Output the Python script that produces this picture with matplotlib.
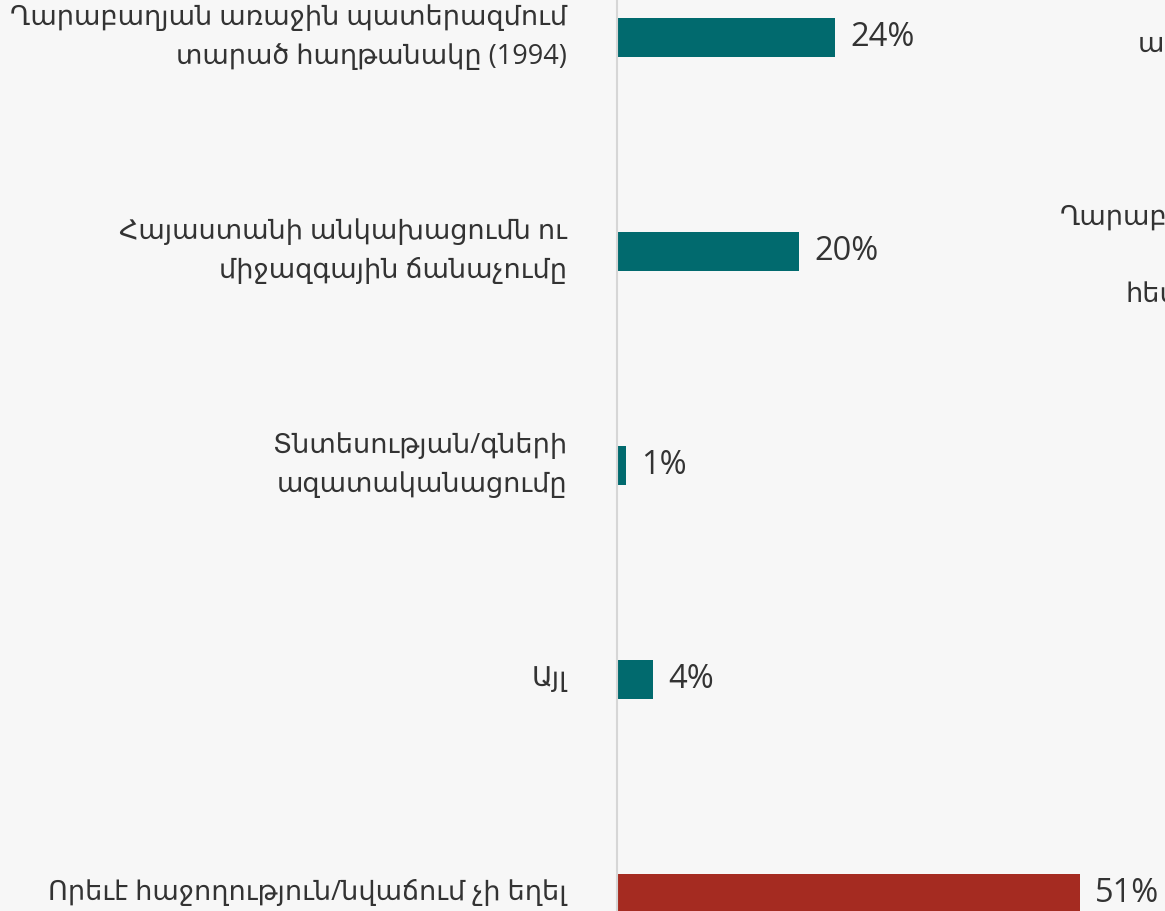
import matplotlib.pyplot as plt

# data
labels = [
    "Ղարաբաղյան առաջին պատերազմում\nտարած հաղթանակը (1994)",
    "Հայաստանի անկախացումն ու\nմիջազգային ճանաչումը",
    "Տնտեսության/գների\nազատականացումը",
    "Այլ",
    "Որեւէ հաջողություն/նվաճում չի եղել",
]
values = [24, 20, 1, 4, 51]
colors = ["#016a6e", "#016a6e", "#016a6e", "#016a6e", "#a52b21"]

# fragments of the neighbouring panel, cut by the right edge
side_texts = ["ապ", "Ղարաբաղյան", "հետ"]

plt.rcParams["font.family"] = ["Open Sans", "DejaVu Sans"]
bg = "#f7f7f7"
txt = "#333333"

W, H = 1165, 911
fig = plt.figure(figsize=(W / 100, H / 100), dpi=100, facecolor=bg)

# axes from the spine (x=617px) to the right edge, full height
ax = fig.add_axes([617 / W, 0, (W - 617) / W, 1], facecolor=bg)
px_per_pct = 9.08
ax.set_xlim(0, (W - 617) / px_per_pct)
step = 214
top_c = 37.5
ax.set_ylim((H - top_c) / step, -top_c / step)

ypos = list(range(len(values)))
ax.barh(ypos, values, height=39 / step, color=colors)

for y, v in zip(ypos, values):
    ax.annotate(f"{v}%", (v, y), xytext=(11, 0), textcoords="offset points",
                va="center", ha="left", fontsize=23.5, color=txt)

for y, lab in zip(ypos, labels):
    ax.annotate(lab, (0, y), xytext=(-36, 0), textcoords="offset points",
                va="center", ha="right", multialignment="right",
                fontsize=19.5, color=txt, annotation_clip=False,
                linespacing=1.5)

for s in ["top", "right", "bottom"]:
    ax.spines[s].set_visible(False)
ax.spines["left"].set_color("#d6d6d6")
ax.spines["left"].set_linewidth(1.5)
ax.set_xticks([])
ax.set_yticks([])

fig.text(1138 / W, 1 - 45 / H, side_texts[0], fontsize=19.5, color=txt, va="center", ha="left")
fig.text(1060 / W, 1 - 218 / H, side_texts[1], fontsize=19.5, color=txt, va="center", ha="left")
fig.text(1125 / W, 1 - 295 / H, side_texts[2], fontsize=19.5, color=txt, va="center", ha="left")

fig.savefig("out.png", dpi=100, facecolor=bg)
